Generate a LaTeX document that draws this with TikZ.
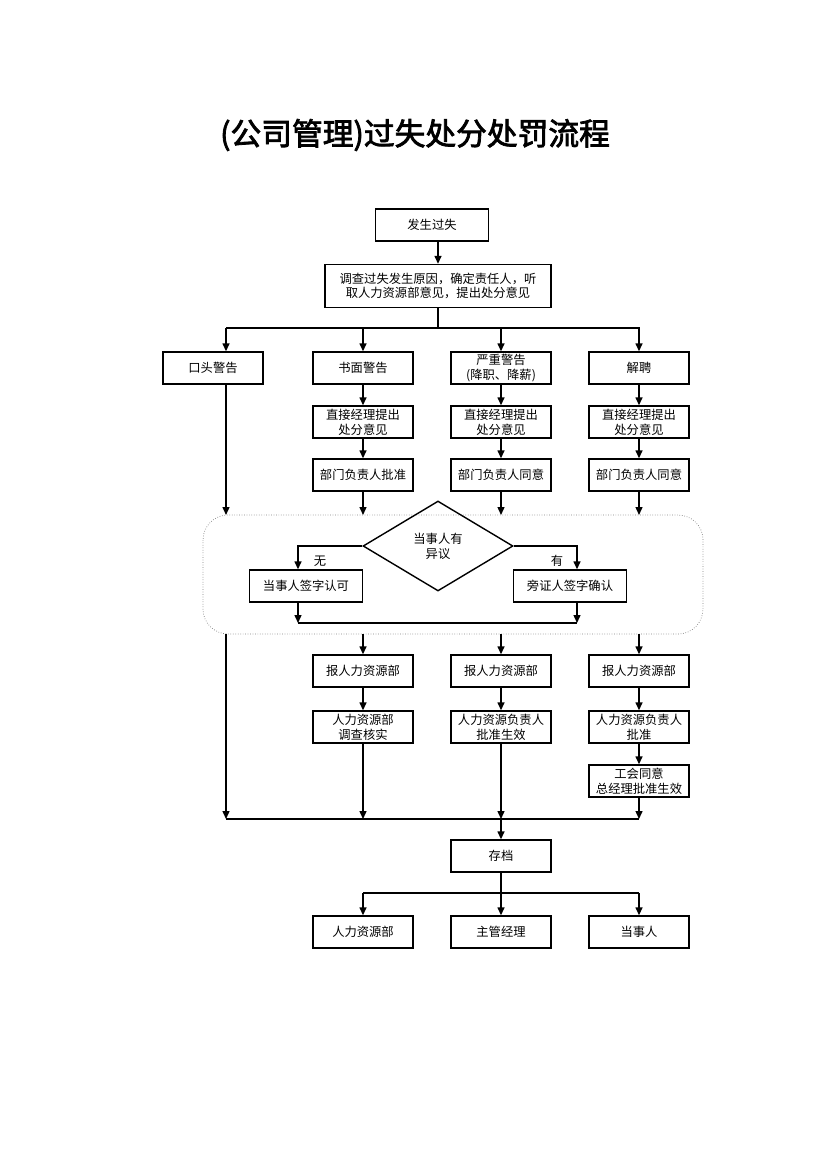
\documentclass[tikz,border=0pt]{standalone}
\usepackage{fontspec}
\setmainfont{Noto Sans CJK SC}[AutoFakeBold=2.5]
\usetikzlibrary{arrows.meta,shapes.geometric}
\tikzset{
	box/.style={draw, thick, minimum width=2cm, minimum height=0.64cm, align=center, inner sep=1pt, font=\fontsize{7}{8.4}\selectfont},
	arr/.style={-{Triangle[length=1.6mm,width=1.4mm]}, thick},
	ln/.style={thick}
}
\begin{document}
\begin{tikzpicture}[x=0.02cm,y=-0.02cm]
		\useasboundingbox (0,0) rectangle (830,1173);
		\node[font=\fontsize{17.5}{20}\selectfont\bfseries] (title) at (415,135) {(公司管理)过失处分处罚流程};
		\node[box, minimum width=2.26cm] (start) at (432,225) {发生过失};
		\node[box, minimum width=4.52cm, minimum height=0.86cm] (probe) at (438,286) {调查过失发生原因，确定责任人，听\\取人力资源部意见，提出处分意见};
		% four kinds of penalty
		\node[box] (oral) at (213,368) {口头警告};
		\node[box] (written) at (363,368) {书面警告};
		\node[box] (severe) at (501,368) {严重警告\\(降职、降薪)};
		\node[box] (dismiss) at (639,368) {解聘};
		\node[box] (mgrA) at (363,422) {直接经理提出\\处分意见};
		\node[box] (mgrB) at (501,422) {直接经理提出\\处分意见};
		\node[box] (mgrC) at (639,422) {直接经理提出\\处分意见};
		\node[box] (deptA) at (363,475) {部门负责人批准};
		\node[box] (deptB) at (501,475) {部门负责人同意};
		\node[box] (deptC) at (639,475) {部门负责人同意};
		% objection block
		\draw[densely dotted, gray, rounded corners=0.5cm] (203,515) rectangle (703,634);
		\node[draw, thick, diamond, aspect=1.67, minimum width=3cm, minimum height=1.8cm, inner sep=0pt, align=center, font=\fontsize{7}{8.4}\selectfont] (obj) at (438,546) {当事人有\\异议};
		\node[box, minimum width=2.26cm] (signA) at (306,586) {当事人签字认可};
		\node[box, minimum width=2.26cm] (signB) at (570,586) {旁证人签字确认};
		\node[font=\fontsize{7}{8.4}\selectfont] (no) at (320,561) {无};
		\node[font=\fontsize{7}{8.4}\selectfont] (yes) at (557,561) {有};
		\coordinate (jA) at (298,623);
		\coordinate (jB) at (577,623);
		% HR steps
		\node[box] (hrA) at (363,671) {报人力资源部};
		\node[box] (hrB) at (501,671) {报人力资源部};
		\node[box] (hrC) at (639,671) {报人力资源部};
		\node[box] (chkA) at (363,727) {人力资源部\\调查核实};
		\node[box] (chkB) at (501,727) {人力资源负责人\\批准生效};
		\node[box] (chkC) at (639,727) {人力资源负责人\\批准};
		\node[box] (union) at (639,781) {工会同意\\总经理批准生效};
		\node[box] (file) at (501,856) {存档};
		\node[box] (toHR) at (363,932) {人力资源部};
		\node[box] (toMgr) at (501,932) {主管经理};
		\node[box] (toEmp) at (639,932) {当事人};
		% connectors
		\draw[arr] (start.south -| probe) -- (probe);
		\draw[ln] (probe.south) -- (438,328);
		\draw[ln] (226,328) -- (640,328);
		\foreach \n/\x in {oral/226,written/363,severe/501,dismiss/639}
			\draw[arr] (\x,328) -- (\n.north -| \x,0);
		\foreach \a/\b in {written/mgrA,mgrA/deptA,severe/mgrB,mgrB/deptB,dismiss/mgrC,mgrC/deptC,hrA/chkA,hrB/chkB,hrC/chkC,chkC/union}
			\draw[arr] (\a) -- (\b);
		\draw[arr] (oral.south -| 226,0) -- (226,515);
		\foreach \n/\x in {deptA/363,deptB/501,deptC/639}
			\draw[arr] (\n) -- (\x,515);
		\draw[arr] (obj.west) -| (signA.north -| 298,0);
		\draw[arr] (obj.east) -| (signB.north -| 577,0);
		\draw[arr] (signA.south -| jA) -- (jA);
		\draw[arr] (signB.south -| jB) -- (jB);
		\draw[ln] (jA) -- (jB);
		\foreach \n/\x in {hrA/363,hrB/501,hrC/639}
			\draw[arr] (\x,634) -- (\n);
		\draw[arr] (226,634) -- (226,819);
		\foreach \n/\x in {chkA/363,chkB/501,union/639}
			\draw[arr] (\n) -- (\x,819);
		\draw[ln] (226,819) -- (639,819);
		\draw[arr] (501,819) -- (file);
		\draw[ln] (file) -- (501,893);
		\draw[ln] (363,893) -- (639,893);
		\foreach \n/\x in {toHR/363,toMgr/501,toEmp/639}
			\draw[arr] (\x,893) -- (\n);
	\end{tikzpicture}
\end{document}
